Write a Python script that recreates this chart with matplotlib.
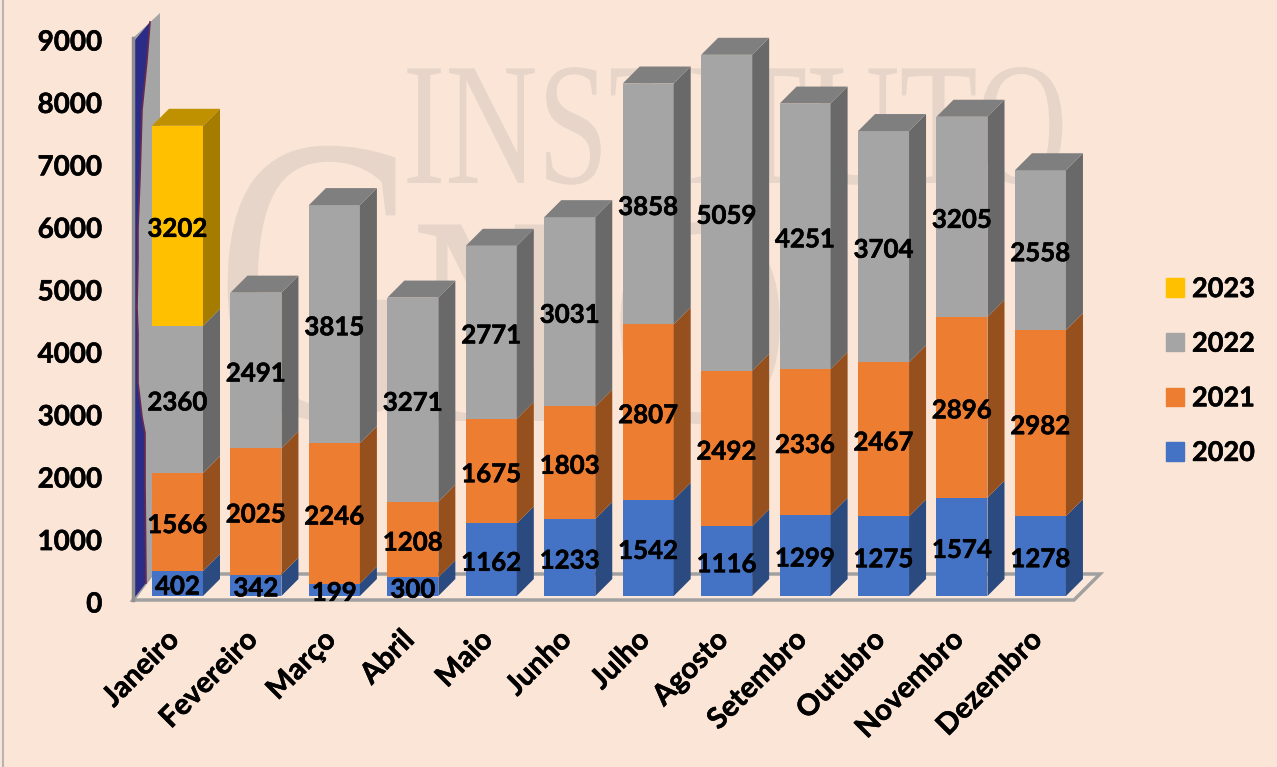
import matplotlib
matplotlib.use('Agg')
import matplotlib.pyplot as plt
from matplotlib.lines import Line2D
from matplotlib.patches import Patch, Polygon
from matplotlib.patheffects import AbstractPathEffect, withStroke
from matplotlib.transforms import Affine2D, ScaledTranslation
import numpy as np

W, H = 1277, 767

meses = ['Janeiro', 'Fevereiro', 'Março', 'Abril', 'Maio', 'Junho', 'Julho',
         'Agosto', 'Setembro', 'Outubro', 'Novembro', 'Dezembro']
v2020 = [402, 342, 199, 300, 1162, 1233, 1542, 1116, 1299, 1275, 1574, 1278]
v2021 = [1566, 2025, 2246, 1208, 1675, 1803, 2807, 2492, 2336, 2467, 2896, 2982]
v2022 = [2360, 2491, 3815, 3271, 2771, 3031, 3858, 5059, 4251, 3704, 3205, 2558]
v2023 = [3202, 0, 0, 0, 0, 0, 0, 0, 0, 0, 0, 0]
anos = ['2020', '2021', '2022', '2023']
yticks = [0, 1000, 2000, 3000, 4000, 5000, 6000, 7000, 8000, 9000]

# front, side, top
cores = [('#4472c4', '#2a4a80', '#36599b'),
         ('#ed7d31', '#96501e', '#b9611f'),
         ('#a5a5a5', '#696969', '#7f7f7f'),
         ('#ffc000', '#a67c00', '#bf9000')]

plt.rcParams['font.family'] = ['Lato', 'DejaVu Sans']
plt.rcParams['font.weight'] = 'bold'

BG = '#fbe5d6'
WM = '#e6d5c8'

fig = plt.figure(figsize=(W / 100, H / 100), dpi=100, facecolor=BG)
negrito = [withStroke(linewidth=0.4, foreground='black')]


def px(x, y):
    return (x / W, 1 - y / H)


class Estreita(AbstractPathEffect):
    # squeezes a text horizontally around its own centre
    def __init__(self, fator, centro):
        super().__init__()
        self.fator = fator
        self.centro = centro

    def draw_path(self, renderer, gc, tpath, affine, rgbFace=None):
        esc = Affine2D().translate(-self.centro, 0).scale(self.fator, 1).translate(self.centro, 0)
        renderer.draw_path(gc, tpath, affine + esc, rgbFace)


# logo behind the chart
for letra, cx, y, size, fator in [('INSTITUTO', 735, 183, 126, 0.73), ('G', 322, 417, 295, 0.72),
                                  ('N', 490, 421, 216, 0.72), ('O', 700, 421, 216, 0.83)]:
    fig.text(*px(cx, y), letra, family='Liberation Serif', weight='normal', fontsize=size, color=WM,
             ha='center', va='baseline', zorder=0, path_effects=[Estreita(fator, cx)])

# left border of the picture
fig.add_artist(Line2D([3 / W, 3 / W], [0, 1], color='#b5b5b5', lw=1.5))

# floor and wall
fig.add_artist(Polygon([px(133, 600), px(1074, 600), px(1100, 574), px(152, 574)], closed=True,
                       facecolor='#fce8da', edgecolor='#a0a0a0', lw=2.5, zorder=1))
fig.add_artist(Polygon([px(133, 38), px(160, 13), px(160, 574), px(152, 574), px(133, 600)], closed=True,
                       facecolor='#a5a5a5', edgecolor='none', zorder=1))
borda = [(150, 22), (147, 60), (142, 110), (140, 177), (138, 227), (138, 260), (137, 307), (138, 333),
         (138, 383), (142, 417), (145, 433), (145, 483), (146, 583)]
fig.add_artist(Polygon([px(135, 40)] + [px(*p) for p in borda] + [px(135, 597)], closed=True,
                       facecolor='#2b2c85', edgecolor='none', zorder=1))
fig.add_artist(Line2D([px(*p)[0] for p in borda], [px(*p)[1] for p in borda], color='#6a2a50', lw=1.2, zorder=1))
fig.add_artist(Line2D([px(133, 38)[0], px(133, 600)[0]], [px(133, 38)[1], px(133, 600)[1]],
                      color='#8f8f8f', lw=2.5, zorder=1))

ax = fig.add_axes([133 / W, 1 - 596 / H, (1100 - 133) / W, (596 - 34) / H], zorder=2)
ax.patch.set_alpha(0)
ax.set_xlim((133 - 177.5) / 78.45, (1100 - 177.5) / 78.45)
ax.set_ylim(0, 9000)
for s in ax.spines.values():
    s.set_visible(False)

x = np.arange(len(meses))
largura = 51 / 78.45
dx = 17 / 78.45
dy = 17 * 9000 / 562

base = np.zeros(len(meses))
series = [v2020, v2021, v2022, v2023]
for serie, (frente, lado, topo) in zip(series, cores):
    valores = np.array(serie, dtype=float)
    ax.bar(x, valores, largura, bottom=base, color=frente, zorder=3)
    for i, v in enumerate(valores):
        if v == 0:
            continue
        xd = x[i] + largura / 2
        ax.add_patch(Polygon([(xd, base[i]), (xd + dx, base[i] + dy), (xd + dx, base[i] + v + dy), (xd, base[i] + v)],
                             closed=True, facecolor=lado, edgecolor='none', zorder=3))
    base = base + valores

# only the last segment of each column shows its top
topo_cor = [c[2] for c in cores]
for i in x:
    k = max(j for j, s in enumerate(series) if s[i] > 0)
    xe = x[i] - largura / 2
    xd = x[i] + largura / 2
    ax.add_patch(Polygon([(xe, base[i]), (xd, base[i]), (xd + dx, base[i] + dy), (xe + dx, base[i] + dy)],
                         closed=True, facecolor=topo_cor[k], edgecolor='none', zorder=3))

base = np.zeros(len(meses))
for serie in series:
    for i, v in enumerate(serie):
        if v > 0:
            ax.annotate(str(v), (x[i], base[i] + v / 2), xytext=(0, -2.2), textcoords='offset points',
                        ha='center', va='center', fontsize=18.6, fontweight='bold', color='black', zorder=5,
                        path_effects=negrito)
    base = base + np.array(serie)

ax.set_yticks(yticks)
ax.set_xticks(x)
ax.set_xticklabels(meses, rotation=45, ha='right', va='top', rotation_mode='anchor', fontsize=21, path_effects=negrito)
ax.tick_params(axis='both', length=0)
ax.tick_params(axis='y', pad=22, labelsize=20)
ax.tick_params(axis='x', pad=22)
desloc_y = ScaledTranslation(0, -6 / 100, fig.dpi_scale_trans)
for t in ax.get_yticklabels():
    t.set_transform(t.get_transform() + desloc_y)
    t.set_path_effects(negrito)
desloc_x = ScaledTranslation(-12 / 100, 0, fig.dpi_scale_trans)
for t in ax.get_xticklabels():
    t.set_transform(t.get_transform() + desloc_x)

handles = [Patch(color=cores[i][0]) for i in range(3, -1, -1)]
leg = ax.legend(handles, anos[::-1], loc='center left', bbox_to_anchor=(1166 / W, 1 - 371 / H),
                bbox_transform=fig.transFigure, frameon=False, fontsize=19.5, handlelength=0.66, handleheight=0.66,
                handletextpad=0.3, labelspacing=1.13, borderpad=0, borderaxespad=0)
for t in leg.get_texts():
    t.set_path_effects(negrito)

fig.savefig('out.png', dpi=100, facecolor=BG)
